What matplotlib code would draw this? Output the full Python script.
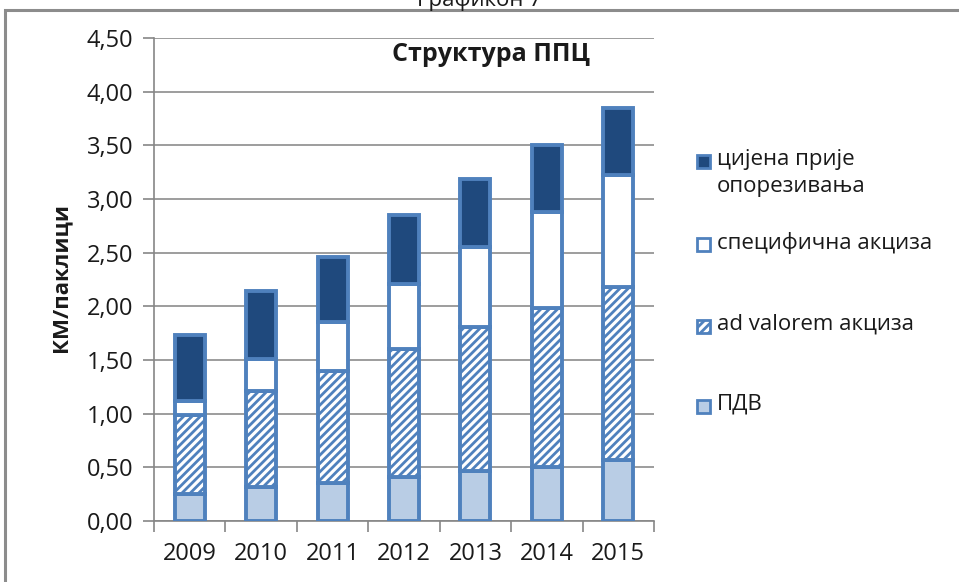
import matplotlib.pyplot as plt
from matplotlib.patches import Rectangle
import numpy as np

plt.rcParams['font.family'] = ['Open Sans', 'DejaVu Sans']
plt.rcParams['hatch.linewidth'] = 2.0

# data (KM per pack)
years = ['2009', '2010', '2011', '2012', '2013', '2014', '2015']
pdv = [0.25, 0.32, 0.35, 0.41, 0.47, 0.50, 0.57]
ad_valorem = [0.74, 0.89, 1.05, 1.19, 1.34, 1.48, 1.61]
specificna = [0.13, 0.30, 0.45, 0.61, 0.74, 0.90, 1.04]
cijena = [0.61, 0.63, 0.61, 0.64, 0.64, 0.62, 0.63]

labels = ['ПДВ', 'ad valorem акциза', 'специфична акциза', 'цијена прије\nопорезивања']
series = [pdv, ad_valorem, specificna, cijena]
fills = ['#B9CDE5', 'white', 'white', '#1F497D']
hatches = [None, '////', None, None]
edge = '#4F81BD'
txt = '#1a1a1a'

fig = plt.figure(figsize=(9.59, 5.82), dpi=100)
ax = fig.add_axes([154 / 959, 1 - 521 / 582, 500 / 959, 483 / 582])

x = np.arange(len(years))
bottom = np.zeros(len(years))
for vals, fc, h in zip(series, fills, hatches):
    ax.bar(x, vals, width=0.42, bottom=bottom, color=fc, edgecolor=edge,
           linewidth=2.8, hatch=h, zorder=3)
    bottom += np.array(vals)

ax.set_xlim(-0.5, len(years) - 0.5)
ax.set_ylim(0, 4.5)
yt = np.arange(0, 4.51, 0.5)
ax.set_yticks(yt)
ax.set_yticklabels([f'{v:.2f}'.replace('.', ',') for v in yt], fontsize=17, color=txt)
ax.set_xticks(x)
ax.set_xticklabels(years, fontsize=17, color=txt)
ax.set_xticks(np.arange(-0.5, len(years), 1), minor=True)
ax.tick_params(axis='x', which='major', length=0, pad=15)
ax.tick_params(axis='x', which='minor', length=8, color='#868686', width=1.2)
ax.tick_params(axis='y', length=8, color='#868686', width=1.2, pad=7)
ax.grid(axis='y', color='#8C8C8C', linewidth=1.2, zorder=0)
for s in ['top', 'right']:
    ax.spines[s].set_visible(False)
for s in ['left', 'bottom']:
    ax.spines[s].set_color('#868686')
    ax.spines[s].set_linewidth(1.2)

ax.set_ylabel('КМ/паклици', fontsize=16, fontweight='bold', color=txt)
ax.yaxis.set_label_coords(-0.166, 0.505)
ax.text(0.674, 0.965, 'Структура ППЦ', transform=ax.transAxes, ha='center',
        va='center', fontsize=18, fontweight='bold', color=txt)

# legend drawn by hand so the marker sits on the first line of the label
leg_y = [407, 327, 245, 162]
for lab, fc, h, yy in zip(labels, fills, hatches, leg_y):
    fig.patches.append(Rectangle((697 / 959, 1 - (yy + 6) / 582), 13 / 959, 13 / 582,
                                 transform=fig.transFigure, facecolor=fc,
                                 edgecolor=edge, linewidth=2, hatch=h))
    fig.text(717 / 959, 1 - (yy - 13) / 582, lab, fontsize=16, va='top',
             linespacing=1.4, color=txt)

# outer frame and cut-off caption
fig.patches.append(Rectangle((5 / 959, -0.05), 1.0, 1.05 - 10 / 582,
                             transform=fig.transFigure, facecolor='none',
                             edgecolor='#8C8C8C', linewidth=2.2))
fig.text(0.5, 1 - 6 / 582, 'Графикон 7', ha='center', va='baseline', fontsize=16,
         color=txt)

fig.savefig('out.png', dpi=100)
